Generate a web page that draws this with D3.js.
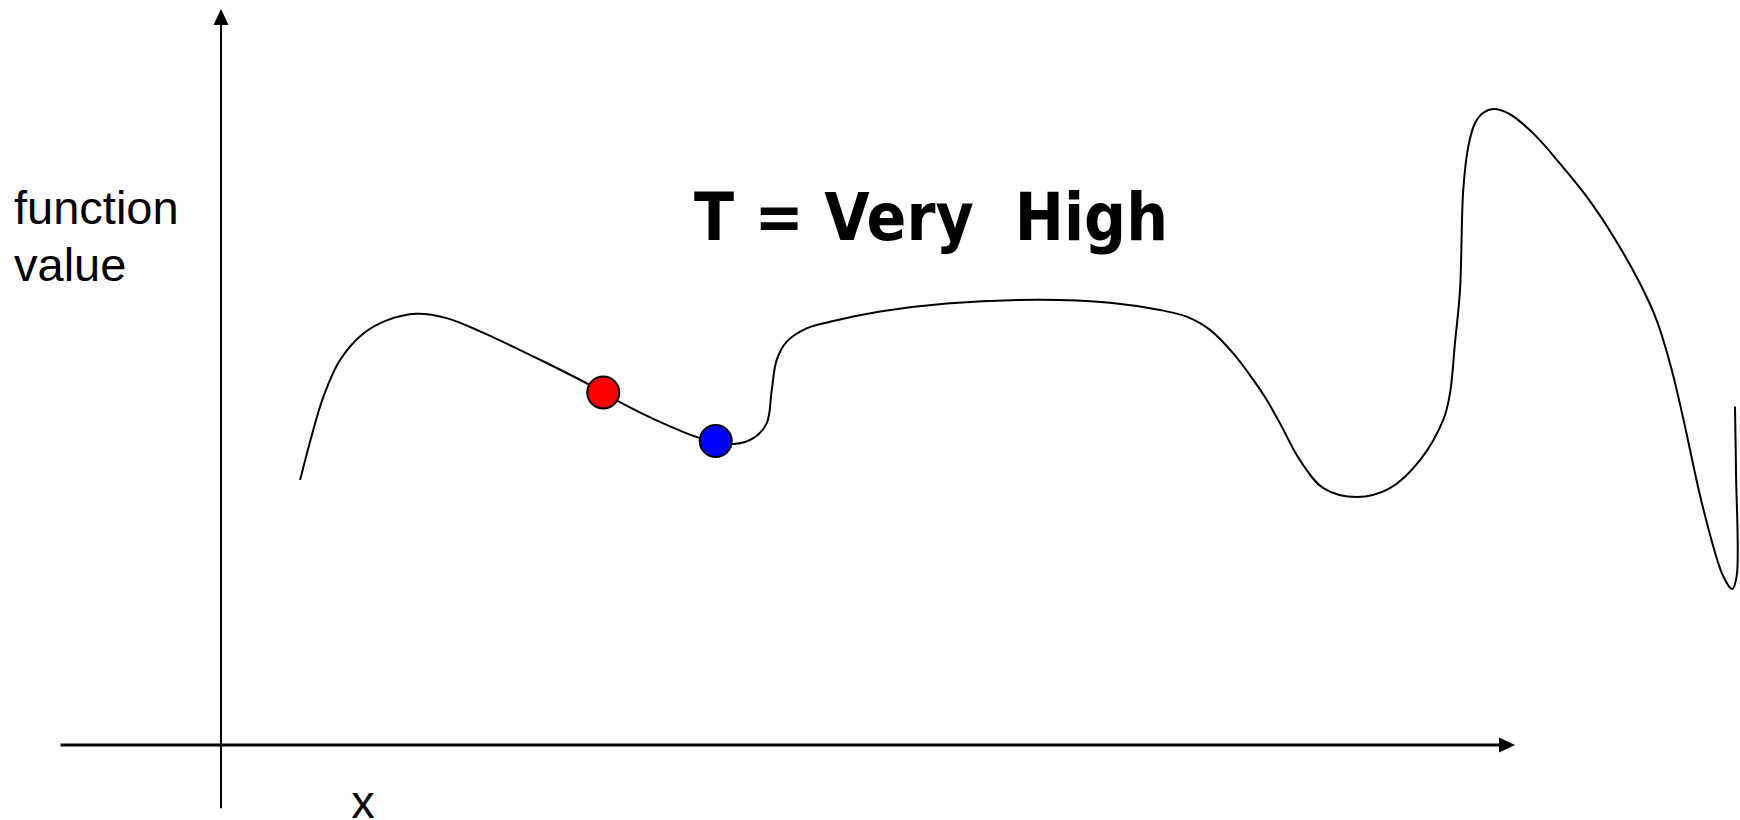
<!DOCTYPE html>
<html>
<head>
<meta charset="utf-8">
<script src="https://cdn.jsdelivr.net/npm/d3@7"></script>
<style>
  body { margin: 0; background: #fff; }
</style>
</head>
<body>
<div id="chart"></div>
<script>
// curve (x, function value), arbitrary units
const curveX = [6.11, 7.13, 7.91, 9.20, 11.00, 12.81, 15.12, 17.44, 20.02, 22.59,
  25.17, 28.52, 29.54, 30.83, 34.18, 37.02, 38.23, 39.59, 41.14, 42.17,
  42.56, 42.94, 43.72, 45.26, 47.06, 50.93, 56.08, 63.29, 68.70, 72.57,
  74.63, 76.43, 78.23, 79.78, 80.81, 81.84, 83.38, 85.19, 87.77, 90.34,
  92.66, 94.46, 94.98, 95.36, 95.75, 96.00, 96.39, 96.91, 97.55, 98.32,
  99.61, 101.41, 103.48, 105.54, 107.60, 109.66, 110.95, 112.11, 113.01, 114.55,
  116.10, 116.79, 117.13, 117.08, 117.00];
const curveY = [36.0, 42.8, 47.3, 52.3, 55.9, 57.7, 58.6, 58.0, 56.2, 54.1,
  51.9, 48.9, 47.9, 46.6, 43.7, 41.7, 41.3, 40.9, 41.7, 43.7,
  48.2, 52.3, 54.8, 56.6, 57.5, 58.9, 60.0, 60.5, 60.1, 59.1,
  58.2, 56.4, 53.2, 49.6, 46.9, 43.7, 38.7, 34.9, 33.7, 34.9,
  38.7, 44.2, 47.8, 54.6, 61.8, 75.4, 81.3, 84.5, 85.9, 86.4,
  85.7, 83.1, 79.0, 74.5, 69.1, 62.7, 57.7, 51.0, 44.3, 32.1,
  22.9, 21.2, 22.9, 37.0, 46.0];

// the two states on the curve
const dotX = [29.54, 38.23];
const dotY = [47.9, 41.3];
const dotColors = ["#ff0000", "#0000ff"];

const titleText = "T = Very  High";
const yLabelLines = ["function", "value"];
const xLabelText = "x";

// axis extents in data units
const xAxisExtent = [-12.4, 100];
const yAxisExtent = [-8.6, 100];

let width = 1740;
let height = 820;
let arrow = 16;

let xScale = d3.scaleLinear().domain([0, 100]).range([221, 1515]);
let yScale = d3.scaleLinear().domain([0, 100]).range([745, 9]);

let svg = d3.select("#chart")
    .append("svg")
    .attr("width", width)
    .attr("height", height);

// arrow head
svg.append("defs")
    .append("marker")
    .attr("id", "head")
    .attr("viewBox", `0 0 ${arrow} ${arrow}`)
    .attr("refX", 0)
    .attr("refY", arrow / 2)
    .attr("markerWidth", arrow)
    .attr("markerHeight", arrow)
    .attr("markerUnits", "userSpaceOnUse")
    .attr("orient", "auto")
    .append("path")
    .attr("d", `M0,0.5 L${arrow},${arrow / 2} L0,${arrow - 0.5} Z`)
    .attr("fill", "#000");

// Eixos
svg.append("line")
    .attr("x1", xScale(0))
    .attr("y1", yScale(yAxisExtent[0]))
    .attr("x2", xScale(0))
    .attr("y2", yScale(yAxisExtent[1]) + arrow)
    .attr("stroke", "#000")
    .attr("stroke-width", 2)
    .attr("marker-end", "url(#head)");

svg.append("line")
    .attr("x1", xScale(xAxisExtent[0]))
    .attr("y1", yScale(0))
    .attr("x2", xScale(xAxisExtent[1]) - arrow)
    .attr("y2", yScale(0))
    .attr("stroke", "#000")
    .attr("stroke-width", 3)
    .attr("marker-end", "url(#head)");

// curve
let line = d3.line()
    .x(d => xScale(d[0]))
    .y(d => yScale(d[1]))
    .curve(d3.curveCatmullRom.alpha(0.5));

svg.append("path")
    .datum(d3.zip(curveX, curveY))
    .attr("fill", "none")
    .attr("stroke", "#000")
    .attr("stroke-width", 2)
    .attr("d", line);

// dots
svg.selectAll(".dot")
    .data(d3.zip(dotX, dotY, dotColors))
    .enter()
    .append("circle")
    .attr("class", "dot")
    .attr("cx", d => xScale(d[0]))
    .attr("cy", d => yScale(d[1]))
    .attr("r", 16)
    .attr("fill", d => d[2])
    .attr("stroke", "#000")
    .attr("stroke-width", 2);

// labels
svg.selectAll(".ylabel")
    .data(yLabelLines)
    .enter()
    .append("text")
    .attr("class", "ylabel")
    .attr("x", 14)
    .attr("y", (d, i) => 224 + i * 57)
    .attr("font-family", "'Liberation Sans', Arial, sans-serif")
    .attr("font-size", 47)
    .attr("fill", "#000")
    .text(d => d);

svg.append("text")
    .attr("x", 363)
    .attr("y", 818)
    .attr("text-anchor", "middle")
    .attr("font-family", "'Liberation Sans', Arial, sans-serif")
    .attr("font-size", 47)
    .attr("fill", "#000")
    .text(xLabelText);

svg.append("text")
    .attr("x", 694)
    .attr("y", 240)
    .attr("font-family", "'DejaVu Sans', sans-serif")
    .attr("font-weight", "bold")
    .attr("font-size", 66)
    .attr("textLength", 474)
    .attr("lengthAdjust", "spacingAndGlyphs")
    .style("white-space", "pre")
    .attr("fill", "#000")
    .text(titleText);
</script>
</body>
</html>
